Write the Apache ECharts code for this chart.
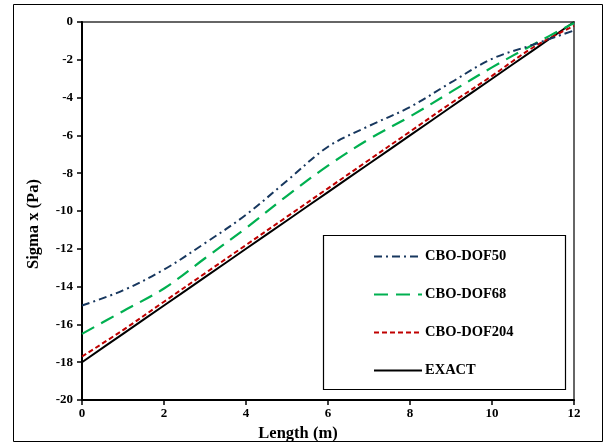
<!DOCTYPE html>
<html><head><meta charset="utf-8">
<script src="https://cdn.jsdelivr.net/npm/echarts@6/dist/echarts.min.js"></script>
<style>html,body{margin:0;padding:0;background:#fff}#c{width:614px;height:444px}</style>
</head><body><div id="c"></div>
<script>
const xValues = [0,1,2,3,4,5,6,7,8,9,10,11,12];
const dof50  = [-15.0,-14.2,-13.1,-11.7,-10.2,-8.4,-6.6,-5.5,-4.5,-3.2,-1.95,-1.2,-0.45];
const dof68  = [-16.5,-15.3,-14.1,-12.5,-10.9,-9.2,-7.6,-6.2,-5.0,-3.7,-2.4,-1.2,-0.05];
const dof204 = [-17.7,-16.3,-14.8,-13.3,-11.8,-10.3,-8.8,-7.3,-5.8,-4.3,-2.85,-1.35,-0.2];
const exact  = [-18,-16.5,-15,-13.5,-12,-10.5,-9,-7.5,-6,-4.5,-3,-1.5,0];
const seriesNames = ['CBO-DOF50','CBO-DOF68','CBO-DOF204','EXACT'];
const xTitle = 'Length (m)';
const yTitle = 'Sigma x (Pa)';

const font = 'Liberation Serif';
const pairs = a => xValues.map((x,i)=>[x,a[i]]);
const styles = [
  {color:'#17375E', type:[8,4,2,4], width:2},
  {color:'#00B050', type:[14,8], width:2.2},
  {color:'#C00000', type:[5,3], width:2},
  {color:'#000000', type:'solid', width:2}
];
const datas = [dof50, dof68, dof204, exact];

const chart = echarts.init(document.getElementById('c'));
chart.setOption({
  animation:false,
  backgroundColor:'#fff',
  grid:{left:82,right:40,top:22,bottom:44,containLabel:false,outerBoundsMode:'none',show:true,borderColor:'#666',borderWidth:2,backgroundColor:'transparent'},
  xAxis:{type:'value',min:0,max:12,interval:2,
    name:xTitle,nameLocation:'middle',nameGap:15,
    nameTextStyle:{fontFamily:font,fontWeight:'bold',fontSize:16.5,color:'#000',padding:[0,60,0,0]},
    axisLine:{show:true,onZero:false,lineStyle:{color:'#000',width:2}},
    axisTick:{show:true,length:5,lineStyle:{color:'#000',width:1.5}},
    axisLabel:{fontFamily:font,fontWeight:'bold',fontSize:13,color:'#000',margin:7},
    splitLine:{show:false}},
  yAxis:{type:'value',min:-20,max:0,interval:2,
    name:yTitle,nameLocation:'middle',nameGap:40,nameRotate:90,
    nameTextStyle:{fontFamily:font,fontWeight:'bold',fontSize:16.5,color:'#000',padding:[0,26,0,0]},
    axisLine:{show:true,onZero:false,lineStyle:{color:'#000',width:2}},
    axisTick:{show:true,length:5,lineStyle:{color:'#000',width:1.5}},
    axisLabel:{fontFamily:font,fontWeight:'bold',fontSize:13,color:'#000',margin:9},
    splitLine:{show:false}},
  legend:{orient:'vertical',left:368,top:244,itemWidth:48,itemHeight:10,itemGap:23,z:20,
    itemStyle:{opacity:0},
    textStyle:{fontFamily:font,fontWeight:'bold',fontSize:14.5,color:'#000',padding:[0,0,0,-2]},
    data:seriesNames},
  graphic:[
    {type:'rect',shape:{x:13.5,y:4.5,width:589,height:437},style:{fill:'none',stroke:'#000',lineWidth:1},silent:true,z:-1},
    {type:'rect',shape:{x:323.5,y:235.5,width:242,height:154},style:{fill:'#fff',stroke:'#000',lineWidth:1.2},silent:true,z:5}
  ],
  series: seriesNames.map((n,i)=>({
    name:n,type:'line',data:pairs(datas[i]),smooth:0.35,showSymbol:false,symbol:'none',
    lineStyle:styles[i],itemStyle:{color:styles[i].color},z:3-i+2
  }))
});
</script></body></html>
